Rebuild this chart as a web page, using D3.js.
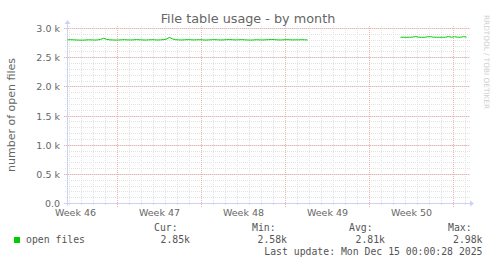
<!DOCTYPE html>
<html>
<head>
<meta charset="utf-8">
<script src="https://cdn.jsdelivr.net/npm/d3@7"></script>
<style>
  body { margin: 0; background: #fff; }
  text { font-family: "DejaVu Sans", sans-serif; }
  .mono { font-family: "DejaVu Sans Mono", monospace; }
</style>
</head>
<body>
<div id="chart"></div>
<script>
// open files, sampled every 6 hours (two segments, gap in between)
const stepHours = 6;
const seg1Start = new Date(Date.UTC(2025, 10, 12, 20));
const seg1Values = [2805, 2808, 2806, 2803, 2801, 2800, 2803, 2806, 2805, 2802, 2804, 2812, 2832, 2815, 2806, 2804,
  2801, 2803, 2806, 2808, 2805, 2803, 2806, 2809, 2807, 2804, 2802, 2805, 2808, 2806, 2803, 2805, 2810, 2818, 2848,
  2822, 2808, 2805, 2803, 2806, 2809, 2807, 2804, 2806, 2808, 2805, 2802, 2804, 2807, 2809, 2806, 2803, 2805, 2808,
  2810, 2807, 2804, 2806, 2809, 2806, 2803, 2801, 2804, 2807, 2805, 2803, 2806, 2808, 2811, 2808, 2805, 2803, 2806,
  2809, 2807, 2804, 2806, 2805, 2808, 2806, 2804];
const seg2Start = new Date(Date.UTC(2025, 11, 10, 14));
const seg2Values = [2850, 2851, 2849, 2850, 2852, 2862, 2851, 2850, 2849, 2858, 2860, 2851, 2850, 2850, 2849, 2851,
  2862, 2850, 2860, 2851, 2850, 2861, 2852];

const yTicks = [0, 500, 1000, 1500, 2000, 2500, 3000];
const yTickLabels = ["0.0", "0.5 k", "1.0 k", "1.5 k", "2.0 k", "2.5 k", "3.0 k"];
const legendLabels = ["Cur:", "Min:", "Avg:", "Max:"];
const legendValues = ["2.85k", "2.58k", "2.81k", "2.98k"];

const W = 497, H = 264;
const green = "#00cc00";
const textColor = "#666";

const svg = d3.select("#chart").append("svg")
  .attr("width", W).attr("height", H);

const x = d3.scaleUtc()
  .domain([seg1Start, new Date(Date.UTC(2025, 11, 16, 4))])
  .range([67.5, 467.5]);
const y = d3.scaleLinear().domain([0, 3000]).range([203.5, 28.5]);

const toPoints = (start, vals) => vals.map((v, i) => ({ t: new Date(+start + i * stepHours * 3600e3), v }));
const segments = [toPoints(seg1Start, seg1Values), toPoints(seg2Start, seg2Values)];

const px = v => Math.round(v - 0.5) + 0.5;

// minor grid
const grid = svg.append("g").attr("shape-rendering", "crispEdges");
grid.selectAll(".hmin").data(d3.range(0, 3001, 100)).join("line")
  .attr("x1", 65).attr("x2", 470)
  .attr("y1", d => px(y(d))).attr("y2", d => px(y(d)))
  .attr("stroke", "#e2e2e2").attr("stroke-dasharray", "1,1");
grid.selectAll(".vmin").data(d3.utcDay.range(...x.domain())).join("line")
  .attr("x1", d => px(x(d))).attr("x2", d => px(x(d)))
  .attr("y1", 26).attr("y2", 206)
  .attr("stroke", "#e2e2e2").attr("stroke-dasharray", "1,1");

// major grid
grid.selectAll(".hmaj").data(yTicks).join("line")
  .attr("x1", 64).attr("x2", 470)
  .attr("y1", d => px(y(d))).attr("y2", d => px(y(d)))
  .attr("stroke", "#eeb4b4").attr("stroke-dasharray", "1,1");
grid.selectAll(".vmaj").data(d3.utcMonday.range(...x.domain())).join("line")
  .attr("x1", d => px(x(d))).attr("x2", d => px(x(d)))
  .attr("y1", 26).attr("y2", 207)
  .attr("stroke", "#eeb4b4").attr("stroke-dasharray", "1,1");

// axes with arrows
const axisColor = "#ccd2f6";
grid.append("line").attr("x1", 64).attr("x2", 470).attr("y1", 203.5).attr("y2", 203.5).attr("stroke", axisColor);
grid.append("line").attr("x1", 67.5).attr("x2", 67.5).attr("y1", 206).attr("y2", 24).attr("stroke", axisColor);
svg.append("path").attr("d", "M470,200.5L474,203.5L470,206.5Z").attr("fill", axisColor);
svg.append("path").attr("d", "M64.5,24L67.5,20L70.5,24Z").attr("fill", axisColor);

// y tick labels
svg.selectAll(".ylab").data(yTicks).join("text")
  .attr("x", 60).attr("y", d => y(d) + 3.5)
  .attr("text-anchor", "end").attr("font-size", "9.5px").attr("fill", textColor)
  .text((d, i) => yTickLabels[i]);

// week labels, centred on each week
const weekFmt = d3.utcFormat("Week %V");
const weekMids = d3.utcMonday.range(d3.utcDay.offset(x.domain()[0], -7), x.domain()[1])
  .map(d => new Date(+d + 3.5 * 864e5))
  .filter(d => d > x.domain()[0] && d < x.domain()[1]);
svg.selectAll(".xlab").data(weekMids).join("text")
  .attr("x", d => x(d)).attr("y", 216)
  .attr("text-anchor", "middle").attr("font-size", "9.5px").attr("fill", textColor)
  .text(d => weekFmt(d));

// data line
const line = d3.line().x(d => x(d.t)).y(d => y(d.v));
svg.selectAll(".series").data(segments).join("path")
  .attr("d", line).attr("fill", "none").attr("stroke", green).attr("stroke-width", 1);

// title and axis title
svg.append("text").attr("x", 248).attr("y", 23).attr("text-anchor", "middle")
  .attr("font-size", "12.8px").attr("fill", textColor).text("File table usage - by month");
svg.append("text").attr("transform", "translate(15,115) rotate(-90)").attr("text-anchor", "middle")
  .attr("font-size", "11px").attr("fill", textColor).text("number of open files");
svg.append("text").attr("transform", "translate(484,15) rotate(90)")
  .attr("font-size", "7.3px").attr("fill", "#cfcfcf").text("RRDTOOL / TOBI OETIKER");

// legend
svg.append("rect").attr("x", 14).attr("y", 237).attr("width", 6).attr("height", 6).attr("fill", green);
svg.append("text").attr("class", "mono").attr("x", 26).attr("y", 243)
  .attr("font-size", "9.8px").attr("fill", "#555").text("open files");
const labelX = [154, 252, 349, 448];
const valueX = [190, 287, 385, 482.5];
svg.selectAll(".lg").data(legendLabels).join("text").attr("class", "mono")
  .attr("x", (d, i) => labelX[i]).attr("y", 231)
  .attr("font-size", "9.8px").attr("fill", "#555").text(d => d);
svg.selectAll(".lv").data(legendValues).join("text").attr("class", "mono")
  .attr("x", (d, i) => valueX[i]).attr("y", 243).attr("text-anchor", "end")
  .attr("font-size", "9.8px").attr("fill", "#555").text(d => d);
svg.append("text").attr("class", "mono").attr("x", 482.5).attr("y", 255).attr("text-anchor", "end")
  .attr("font-size", "9.8px").attr("fill", "#555").text("Last update: Mon Dec 15 00:00:28 2025");
</script>
</body>
</html>
